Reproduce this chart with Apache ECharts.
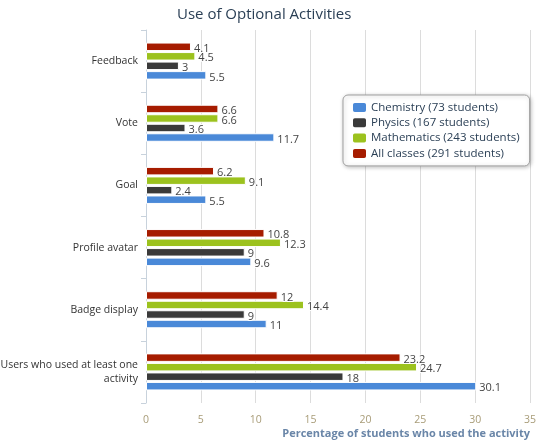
<!DOCTYPE html>
<html><head><meta charset="utf-8">
<script src="https://cdn.jsdelivr.net/npm/echarts@6/dist/echarts.min.js"></script>
<style>html,body{margin:0;padding:0;background:#fff}#c{width:541px;height:442px}</style>
</head><body><div id="c"></div>
<script>
var categories = ['Feedback', 'Vote', 'Goal', 'Profile avatar', 'Badge display', 'Users who used at least one\nactivity'];
var seriesNames = ['Chemistry (73 students)', 'Physics (167 students)', 'Mathematics (243 students)', 'All classes (291 students)'];
var chemistry = [5.5, 11.7, 5.5, 9.6, 11, 30.1];
var physics = [3, 3.6, 2.4, 9, 9, 18];
var mathematics = [4.5, 6.6, 9.1, 12.3, 14.4, 24.7];
var allClasses = [4.1, 6.6, 6.2, 10.8, 12, 23.2];
var xTicks = [0, 5, 10, 15, 20, 25, 30, 35];
var colors = ['#4a89d8', '#3a3a3a', '#9cc21e', '#a61c00'];
var values = [chemistry, physics, mathematics, allClasses];

var font = 'Open Sans';
var chart = echarts.init(document.getElementById('c'));
var series = values.map(function (v, i) {
  return {
    name: seriesNames[i], type: 'bar', data: v,
    barWidth: 8.5, barGap: '12%', barCategoryGap: '40%',
    itemStyle: { color: colors[i], borderColor: '#fff', borderWidth: 1 },
    label: { show: true, position: 'right', distance: 3, color: '#444', fontSize: 11, fontFamily: font,
      textBorderColor: '#fff', textBorderWidth: 2, offset: [0, 2] },
    emphasis: { disabled: true }, animation: false
  };
}).reverse();
chart.setOption({
  animation: false,
  title: { text: 'Use of Optional Activities', left: 172, top: 2,
    textStyle: { color: '#2a3f55', fontSize: 15, fontWeight: 'normal', fontFamily: font } },
  legend: {
    orient: 'vertical', left: 343, top: 95, width: 184,
    padding: [6, 10, 6, 8], itemWidth: 15, itemHeight: 11, itemGap: 2.3,
    icon: 'roundRect', borderColor: '#a0a0a0', borderWidth: 1, borderRadius: 5,
    backgroundColor: '#fff', shadowColor: 'rgba(0,0,0,0.25)', shadowBlur: 4, shadowOffsetX: 1, shadowOffsetY: 1,
    textStyle: { color: '#2a3f55', fontSize: 11.5, fontFamily: font, padding: [0, 0, 0, -1] },
    data: seriesNames
  },
  grid: { left: 146, right: 11, top: 30, bottom: 39, containLabel: false, outerBoundsMode: 'none' },
  xAxis: {
    type: 'value', min: 0, max: 35, interval: 5,
    axisLine: { show: false }, axisTick: { show: false },
    splitLine: { show: true, lineStyle: { color: '#dcdcdc', width: 1 } },
    axisLabel: { color: '#a89c78', fontSize: 10.5, fontFamily: font, margin: 12,
      formatter: function (v) { return xTicks.indexOf(v) >= 0 ? String(v) : ''; } },
    name: 'Percentage of students who used the activity', nameLocation: 'end', nameGap: 0,
    nameTextStyle: { color: '#6a86a8', fontWeight: 'bold', fontSize: 11, fontFamily: font,
      align: 'right', verticalAlign: 'top', padding: [25, 0, 0, 0] }
  },
  yAxis: {
    type: 'category', data: categories, inverse: true,
    axisLine: { show: true, lineStyle: { color: '#c8d2dc' } },
    axisTick: { show: true, length: 5, lineStyle: { color: '#c8d2dc' } },
    axisLabel: { color: '#333', fontSize: 10.5, fontFamily: font, margin: 8, align: 'right', lineHeight: 14 },
    splitLine: { show: false }
  },
  series: series
});
</script></body></html>
